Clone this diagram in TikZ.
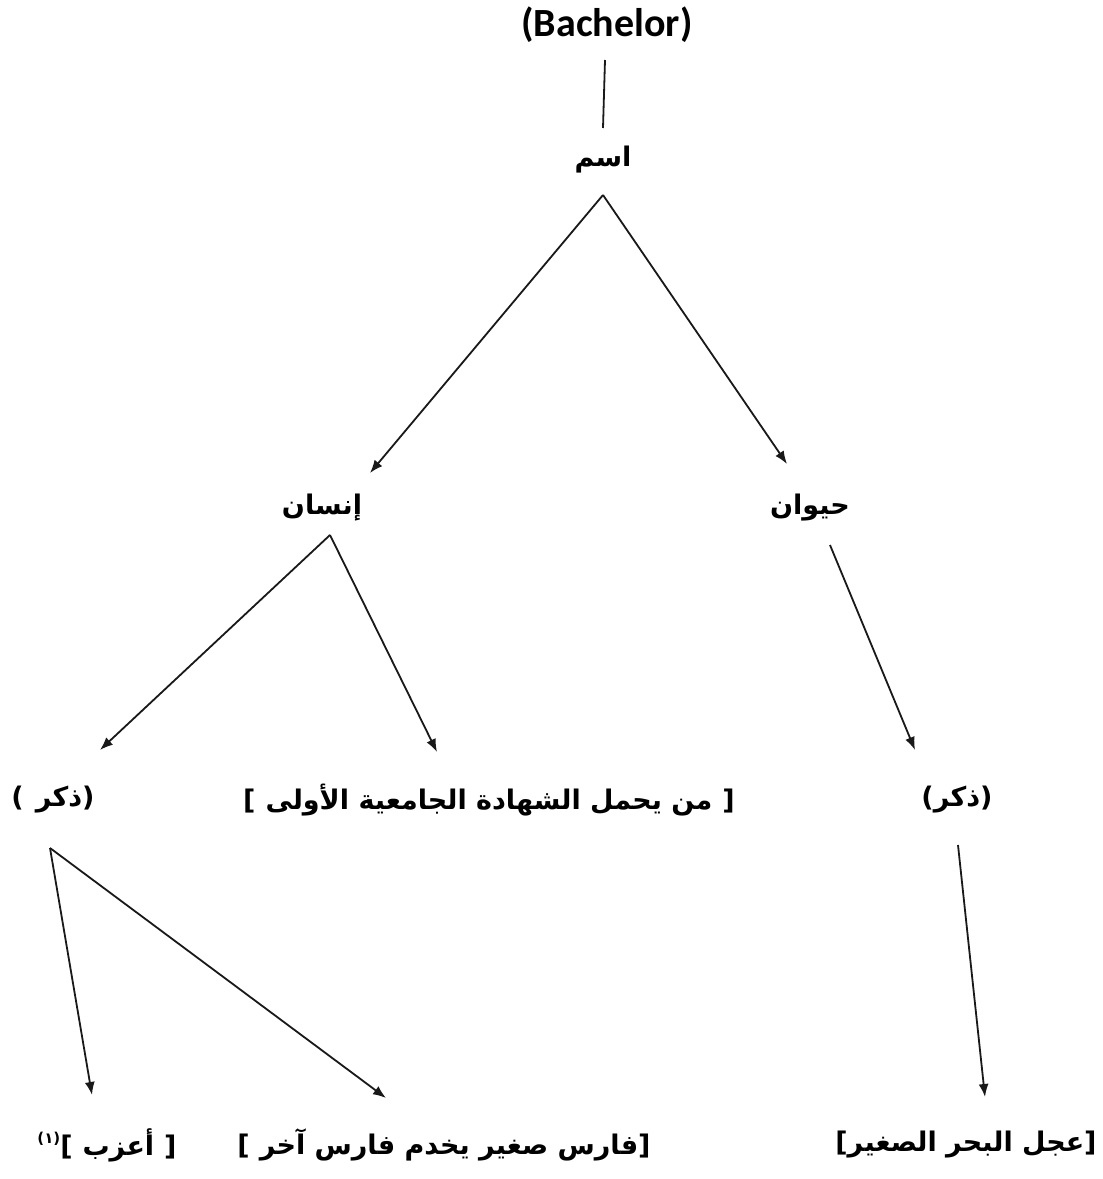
\documentclass[tikz,border=0pt]{standalone}
\usepackage{fontspec}
\setmainfont{DejaVu Sans}
\newfontfamily\arabicfont[Script=Arabic]{DejaVu Sans}
\newfontfamily\plainfont{DejaVu Sans}
\newfontfamily\latfont{Carlito}
\TeXXeTstate=1
\usetikzlibrary{arrows.meta}
\newcommand{\pl}[1]{\hbox{\plainfont #1}}
\begin{document}
\begin{tikzpicture}[x=1pt,y=-1pt,
  lbl/.style={inner sep=0pt, font=\bfseries\fontsize{27}{32}\selectfont},
  edge/.style={line width=1.8pt, black!90},
  arr/.style={edge, -{Latex[length=13pt,width=10pt]}}]
\useasboundingbox[fill=white] (0,0) rectangle (1103,1179);
% nodes
\node[inner sep=0pt, font=\latfont\bfseries\fontsize{40}{44}\selectfont] (bach) at (607,25) {(Bachelor)};
\node[lbl] (ism) at (603,160) {\hbox{\arabicfont\beginR اسم\endR}};
\node[lbl] (insan) at (322,508) {\hbox{\arabicfont\beginR إنسان\endR}};
\node[lbl] (haywan) at (810,508) {\hbox{\arabicfont\beginR حيوان\endR}};
\node[lbl] (dhakarL) at (53,800) {\pl{(}\hspace{12pt}\hbox{\arabicfont\beginR ذكر\endR}\pl{)}};
\node[lbl] (min) at (489,800) {\pl{[}\hspace{10pt}\hbox{\arabicfont\beginR من يحمل الشهادة الجامعية الأولى\endR}\hspace{10pt}\pl{]}};
\node[lbl] (dhakarR) at (957,800) {\pl{(}\hbox{\arabicfont\beginR ذكر\endR}\pl{)}};
\node[lbl] (azab) at (107,1145) {\raisebox{12pt}{\fontsize{15}{16}\selectfont\pl{(١)}}\pl{[}\hspace{10pt}\hbox{\arabicfont\beginR أعزب\endR}\hspace{10pt}\pl{]}};
\node[lbl] (faris) at (444,1145) {\pl{[}\hspace{10pt}\hbox{\arabicfont\beginR فارس صغير يخدم فارس آخر\endR}\pl{]}};
\node[lbl] (ijl) at (966,1145) {\pl{[}\hbox{\arabicfont\beginR عجل البحر الصغير\endR}\pl{]}};
% connector endpoints
\coordinate (bachS) at (605,60);
\coordinate (ismN) at (603,128);
\coordinate (ismS) at (603,195);
\coordinate (insanN) at (370,473);
\coordinate (haywanN) at (787,464);
\coordinate (insanS) at (330,535);
\coordinate (haywanS) at (830,545);
\coordinate (dhakarLN) at (100,750);
\coordinate (minN) at (437,752);
\coordinate (dhakarRN) at (915,750);
\coordinate (dhakarLS) at (50,848);
\coordinate (dhakarRS) at (958,845);
\coordinate (azabN) at (92,1095);
\coordinate (farisN) at (386,1098);
\coordinate (ijlN) at (985,1097);
% connectors
\draw[edge] (bachS) -- (ismN);
\draw[arr] (ismS) -- (insanN);
\draw[arr] (ismS) -- (haywanN);
\draw[arr] (insanS) -- (dhakarLN);
\draw[arr] (insanS) -- (minN);
\draw[arr] (haywanS) -- (dhakarRN);
\draw[arr] (dhakarLS) -- (azabN);
\draw[arr] (dhakarLS) -- (farisN);
\draw[arr] (dhakarRS) -- (ijlN);
\end{tikzpicture}
\end{document}
